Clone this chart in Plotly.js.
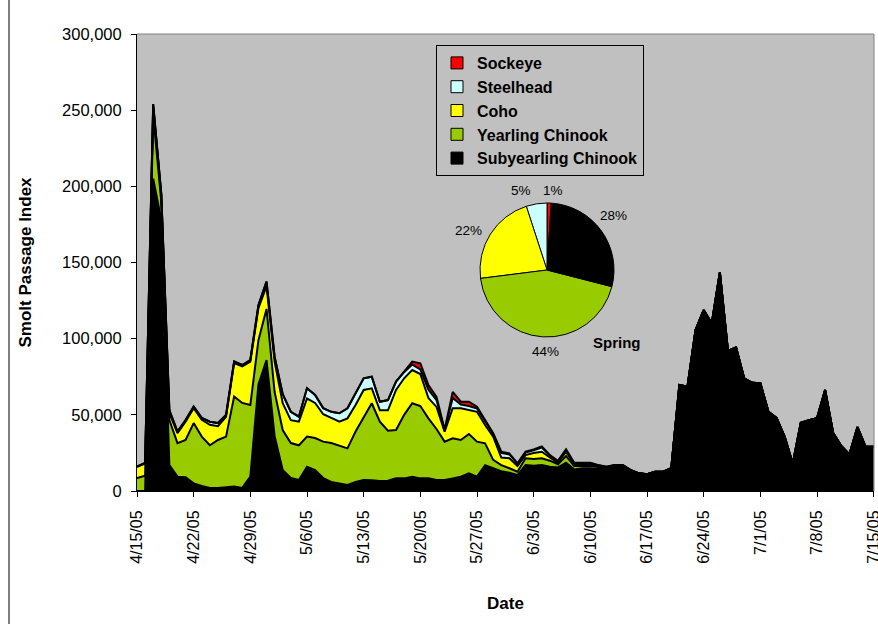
<!DOCTYPE html>
<html>
<head>
<meta charset="utf-8">
<script src="https://cdn.plot.ly/plotly-3.0.1.min.js"></script>
<style>html,body{margin:0;padding:0;background:#fff;}#chart{width:878px;height:624px;}</style>
</head>
<body>
<div id="chart"></div>
<script>
// ---- data ----
const dates = [
"2005-04-15","2005-04-16","2005-04-17","2005-04-18","2005-04-19","2005-04-20","2005-04-21","2005-04-22","2005-04-23","2005-04-24",
"2005-04-25","2005-04-26","2005-04-27","2005-04-28","2005-04-29","2005-04-30","2005-05-01","2005-05-02","2005-05-03","2005-05-04",
"2005-05-05","2005-05-06","2005-05-07","2005-05-08","2005-05-09","2005-05-10","2005-05-11","2005-05-12","2005-05-13","2005-05-14",
"2005-05-15","2005-05-16","2005-05-17","2005-05-18","2005-05-19","2005-05-20","2005-05-21","2005-05-22","2005-05-23","2005-05-24",
"2005-05-25","2005-05-26","2005-05-27","2005-05-28","2005-05-29","2005-05-30","2005-05-31","2005-06-01","2005-06-02","2005-06-03",
"2005-06-04","2005-06-05","2005-06-06","2005-06-07","2005-06-08","2005-06-09","2005-06-10","2005-06-11","2005-06-12","2005-06-13",
"2005-06-14","2005-06-15","2005-06-16","2005-06-17","2005-06-18","2005-06-19","2005-06-20","2005-06-21","2005-06-22","2005-06-23",
"2005-06-24","2005-06-25","2005-06-26","2005-06-27","2005-06-28","2005-06-29","2005-06-30","2005-07-01","2005-07-02","2005-07-03",
"2005-07-04","2005-07-05","2005-07-06","2005-07-07","2005-07-08","2005-07-09","2005-07-10","2005-07-11","2005-07-12","2005-07-13",
"2005-07-14","2005-07-15"];

const subyearlingChinook = [
0,0,205000,178000,17000,9400,9000,5000,3300,2000,
2000,2500,3000,2000,9400,70000,86000,36000,13800,8500,
7200,16000,13800,8500,6000,5000,4000,6000,7200,7000,
6500,6800,8300,8300,9400,8300,8300,7200,7200,8300,
9400,11600,9400,17000,14900,13000,12000,10500,17000,16500,
17000,16000,15500,18600,14200,14900,15000,14500,14200,16400,
16500,13500,11600,11000,12700,12700,15000,69600,68500,105700,
118800,110000,143500,92000,94300,74000,71000,70700,52000,48000,
35700,18000,44800,46400,47700,66300,38000,29600,24000,42000,
29000,29000];

const yearlingChinook = [
8500,10000,42000,12000,29600,22000,24500,39600,32400,28000,
31500,33200,59000,55800,47000,29000,33500,29000,26200,23000,
22800,19700,21000,23900,25500,25000,24000,33000,41600,50600,
39000,32800,31700,41700,48200,47500,39400,33500,25200,26300,
24100,25800,23000,14300,5500,4000,2900,2200,4500,4500,
4500,3900,2100,4400,2200,1800,1600,1200,900,300,
200,100,0,0,0,0,0,0,0,0,
0,0,0,0,0,0,0,0,0,0,
0,0,0,0,0,0,0,0,0,0,
0,0];

const coho = [
7300,8000,5000,4000,4400,6600,12000,9800,11000,13500,
9000,13000,22000,24000,28500,21000,15000,20000,17600,15000,
15500,25000,23000,18000,16500,15500,19700,17500,17500,9800,
7500,13400,26300,24000,21800,21000,13300,14500,6500,19700,
20800,15600,19600,12000,15300,5000,6600,3700,2100,4000,
4300,2100,900,2800,1200,1000,1000,600,400,100,
100,0,0,0,0,0,0,0,0,0,
0,0,0,0,0,0,0,0,0,0,
0,0,0,0,0,0,0,0,0,0,
0,0];

const steelhead = [
200,500,2000,1000,2000,1000,1100,1000,1300,2000,
2100,1300,1000,900,1100,2000,3000,3000,6000,5500,
3300,6700,5200,4000,4000,5500,6600,7500,7700,7600,
5600,6700,5500,4000,3600,3000,5500,4500,1000,6700,
2500,2800,2200,2500,1800,3000,2500,1500,1700,1800,
2800,1200,1000,1100,800,700,800,500,400,200,
200,100,0,0,0,0,0,0,0,0,
0,0,0,0,0,0,0,0,0,0,
0,0,0,0,0,0,0,0,0,0,
0,0];

const sockeye = [
0,0,0,0,0,0,0,0,0,0,
0,0,0,0,0,0,0,0,0,0,
0,0,0,0,0,0,0,0,0,0,
0,0,0,300,2000,4000,3000,2000,300,4000,
1800,2800,1200,800,400,800,700,300,500,500,
700,400,300,400,200,200,200,200,100,0,
0,0,0,0,0,0,0,0,0,0,
0,0,0,0,0,0,0,0,0,0,
0,0,0,0,0,0,0,0,0,0,
0,0];

// x-axis ticks
const tickDates = ["2005-04-15","2005-04-22","2005-04-29","2005-05-06","2005-05-13","2005-05-20","2005-05-27",
                   "2005-06-03","2005-06-10","2005-06-17","2005-06-24","2005-07-01","2005-07-08","2005-07-15"];
const tickLabels = ["4/15/05","4/22/05","4/29/05","5/6/05","5/13/05","5/20/05","5/27/05",
                    "6/3/05","6/10/05","6/17/05","6/24/05","7/1/05","7/8/05","7/15/05"];

// spring composition pie (percent)
const pieLabels = ["Sockeye","Steelhead","Coho","Yearling Chinook","Subyearling Chinook"];
const pieValues = [1,5,22,44,28];
const pieNote = "Spring";

const xTitle = "Date";
const yTitle = "Smolt Passage Index";

// ---- styling ----
const FONT = "Liberation Sans, Arial, sans-serif";
const colors = {
  "Subyearling Chinook": "#000000",
  "Yearling Chinook": "#99CC00",
  "Coho": "#FFFF00",
  "Steelhead": "#CCFFFF",
  "Sockeye": "#FF0000"
};

const W = 878, H = 624;
const M = {l: 137, r: 4, t: 34, b: 133};
const PW = W - M.l - M.r, PH = H - M.t - M.b;

const series = [
  ["Subyearling Chinook", subyearlingChinook],
  ["Yearling Chinook", yearlingChinook],
  ["Coho", coho],
  ["Steelhead", steelhead],
  ["Sockeye", sockeye]
];

const traces = series.map(([name, vals]) => ({
  type: "scatter",
  mode: "lines",
  x: dates,
  y: vals,
  name: name,
  stackgroup: "fish",
  line: {color: "#000000", width: 2, shape: "linear"},
  fillcolor: colors[name],
  showlegend: false,
  hovertemplate: name + ": %{y:,}<extra></extra>"
}));

// pie domain in pixels -> paper
const pieCx = 547, pieCy = 270, pieR = 67;
const dom = {
  x: [(pieCx - pieR - M.l) / PW, (pieCx + pieR - M.l) / PW],
  y: [(M.t + PH - (pieCy + pieR)) / PH, (M.t + PH - (pieCy - pieR)) / PH]
};

traces.push({
  type: "pie",
  labels: pieLabels,
  values: pieValues,
  sort: false,
  direction: "counterclockwise",
  rotation: 0,
  domain: dom,
  textinfo: "none",
  marker: {colors: pieLabels.map(l => colors[l]), line: {color: "#000000", width: 1}},
  showlegend: true,
  hovertemplate: "%{label}: %{value}%<extra></extra>"
});

// percentage labels around pie, from slice mid-angles (small pixel nudges to avoid overlap)
const labelNudgeX = [9, -8, -5, -2, 2];
const labelNudgeY = [4, 2, 1, -2, -1];
const annotations = [];
const total = pieValues.reduce((a, b) => a + b, 0);
let cum = 0;
const labR = 84;
pieValues.forEach((v, i) => {
  const mid = (cum + v / 2) / total * 2 * Math.PI; // counterclockwise from 12 o'clock
  cum += v;
  const px = pieCx - labR * Math.sin(mid) + labelNudgeX[i];
  const py = pieCy - labR * Math.cos(mid) + labelNudgeY[i];
  annotations.push({
    xref: "paper", yref: "paper",
    x: (px - M.l) / PW, y: (M.t + PH - py) / PH,
    xanchor: "center", yanchor: "middle",
    text: Math.round(v / total * 100) + "%",
    showarrow: false,
    font: {family: FONT, size: 13.5, color: "#000000"}
  });
});
annotations.push({
  xref: "paper", yref: "paper",
  x: (617 - M.l) / PW, y: (M.t + PH - 342) / PH,
  xanchor: "center", yanchor: "middle",
  text: pieNote, showarrow: false,
  font: {family: FONT, size: 15, color: "#000000", weight: "bold"}
});

const layout = {
  width: W, height: H,
  margin: M,
  paper_bgcolor: "#FFFFFF",
  plot_bgcolor: "#C0C0C0",
  font: {family: FONT, color: "#000000"},
  showlegend: true,
  legend: {
    x: (644 - M.l) / PW, y: (M.t + PH - 45) / PH,
    xanchor: "right", yanchor: "top",
    traceorder: "normal",
    bgcolor: "rgba(0,0,0,0)",
    bordercolor: "#000000", borderwidth: 1,
    font: {family: FONT, size: 16, color: "#000000", weight: "bold"}
  },
  xaxis: {
    type: "date",
    range: ["2005-04-15", "2005-07-15 01:00"],
    tickmode: "array",
    tickvals: tickDates,
    ticktext: tickLabels,
    tickangle: -90,
    ticklabeloverflow: "allow",
    ticks: "outside", ticklen: 5, tickcolor: "#000000",
    ticklabelstandoff: 7,
    showline: true, linecolor: "#000000", linewidth: 1,
    showgrid: false, zeroline: false,
    tickfont: {family: FONT, size: 16, color: "#000000"},
    title: {text: xTitle, standoff: 34, font: {family: FONT, size: 17, color: "#000000", weight: "bold"}},
    automargin: false
  },
  yaxis: {
    range: [0, 300000],
    dtick: 50000,
    tickformat: ",",
    ticks: "outside", ticklen: 5, tickcolor: "#000000",
    ticklabelstandoff: 6,
    showline: true, linecolor: "#000000", linewidth: 1,
    showgrid: false, zeroline: false,
    tickfont: {family: FONT, size: 16.5, color: "#000000"},
    title: {text: yTitle, standoff: 26, font: {family: FONT, size: 17, color: "#000000", weight: "bold"}},
    automargin: false
  },
  shapes: [
    {type: "line", xref: "paper", yref: "paper", x0: 0, x1: 1, y0: 1, y1: 1, line: {color: "#808080", width: 1}},
    {type: "line", xref: "paper", yref: "paper", x0: 1, x1: 1, y0: 0, y1: 1, line: {color: "#808080", width: 1}},
    {type: "line", xref: "paper", yref: "paper", x0: (9 - M.l) / PW, x1: (9 - M.l) / PW, y0: -(H - M.t - PH) / PH - 0.01, y1: 1 + M.t / PH + 0.01, line: {color: "#000000", width: 1}}
  ],
  annotations: annotations
};

Plotly.newPlot("chart", traces, layout, {displayModeBar: false, staticPlot: true});
</script>
</body>
</html>
